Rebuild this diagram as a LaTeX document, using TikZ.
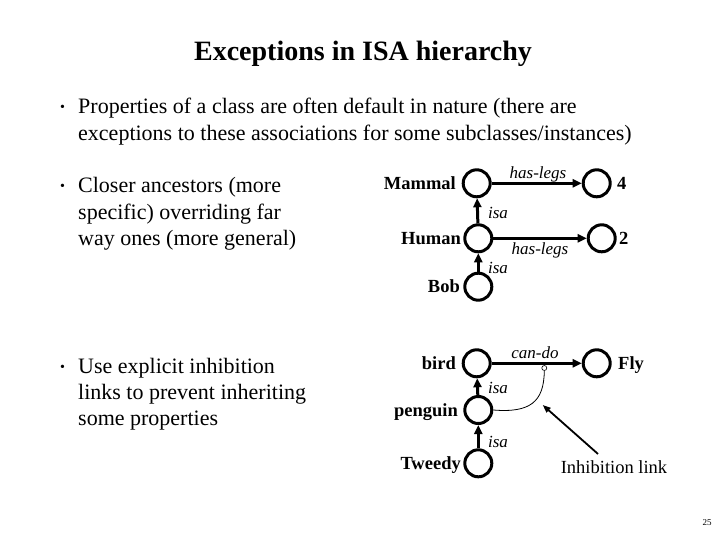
\documentclass[tikz,border=0pt]{standalone}
\usepackage{fontspec}
\setmainfont{Liberation Serif}
\usetikzlibrary{arrows.meta}
\begin{document}
\begin{tikzpicture}[x=1pt,y=-1pt,
 conc/.style={circle,draw,line width=3pt,minimum size=27pt,inner sep=0pt},
 lbl/.style={anchor=base east,inner sep=0pt,font=\fontsize{18.5}{18.5}\selectfont\bfseries},
 lblr/.style={anchor=base west,inner sep=0pt,font=\fontsize{18.5}{18.5}\selectfont\bfseries},
 rel/.style={inner sep=0pt,font=\fontsize{17}{17}\selectfont\itshape},
 link/.style={line width=3pt,-{Triangle[length=9pt,width=8pt]}},
 txt/.style={anchor=base west,inner sep=0pt,font=\fontsize{22}{22}\selectfont},
 bul/.style={anchor=base west,inner sep=0pt,font=\fontsize{14}{14}\selectfont},
]
\useasboundingbox (0,0) rectangle (720,540);
% title
\node[anchor=base,inner sep=0pt,font=\fontsize{28}{28}\selectfont\bfseries] (title) at (363,61) {Exceptions in ISA hierarchy};
% bullets
\node[bul] (b1) at (60,112) {•};
\node[txt] (t1a) at (78,114) {Properties of a class are often default in nature (there are};
\node[txt] (t1b) at (78,141) {exceptions to these associations for some subclasses/instances)};
\node[bul] (b2) at (60,191) {•};
\node[txt] (t2a) at (78,193) {Closer ancestors (more};
\node[txt] (t2b) at (78,219) {specific) overriding far};
\node[txt] (t2c) at (78,245) {way ones (more general)};
\node[bul] (b3) at (60,371) {•};
\node[txt] (t3a) at (78,373) {Use explicit inhibition};
\node[txt] (t3b) at (78,399) {links to prevent inheriting};
\node[txt] (t3c) at (78,425) {some properties};
% upper network
\node[conc] (mammal) at (476.7,183.3) {};
\node[conc] (four) at (596.7,183.3) {};
\node[conc] (human) at (478.3,238.3) {};
\node[conc] (two) at (601.7,238.3) {};
\node[conc] (bob) at (478.3,286.7) {};
\node[lbl] (lmammal) at (456,189.5) {Mammal};
\node[lbl] (lhuman) at (461,244.5) {Human};
\node[lbl] (lbob) at (460,292.5) {Bob};
\node[lblr] (lfour) at (617,189.5) {4};
\node[lblr] (ltwo) at (619,244.5) {2};
\draw[link] (mammal) -- (four);
\draw[link] (human) -- (two);
\draw[link] (human) -- (mammal);
\draw[link] (bob) -- (human);
\node[rel] (r1) at (538,174) {has-legs};
\node[rel] (r2) at (540,250) {has-legs};
\node[rel] (r3) at (498,213) {isa};
\node[rel] (r4) at (498,268) {isa};
% lower network
\node[conc] (bird) at (476.7,363.3) {};
\node[conc] (fly) at (596.7,363.3) {};
\node[conc] (penguin) at (478.3,410) {};
\node[conc] (tweedy) at (478.3,463.3) {};
\node[lbl] (lbird) at (456,369.5) {bird};
\node[lbl] (lpenguin) at (458,416.5) {penguin};
\node[lbl] (ltweedy) at (461,469.5) {Tweedy};
\node[lblr] (lfly) at (618,369.5) {Fly};
\draw[link] (bird) -- (fly);
\draw[link] (penguin) -- (bird);
\draw[link] (tweedy) -- (penguin);
\node[rel] (r5) at (535,353) {can-do};
\node[rel] (r6) at (498,388) {isa};
\node[rel] (r7) at (498,442) {isa};
\node[circle,draw,fill=white,line width=0.6pt,minimum size=5pt,inner sep=0pt] (inh) at (544.3,368) {};
\draw[line width=0.8pt] (penguin.east) .. controls (530,413) and (544,402) .. (inh.south);
\node[anchor=base,inner sep=0pt,font=\fontsize{18.5}{18.5}\selectfont] (linh) at (614,473) {Inhibition link};
\coordinate (tip) at (542.7,405);
\draw[line width=1.8pt,-{Triangle[length=8pt,width=6pt]}] ([xshift=-16pt,yshift=6pt]linh.north) -- (tip);
% page number
\node[inner sep=0pt,font=\fontsize{9}{9}\selectfont] (pg) at (707,523) {25};
\end{tikzpicture}
\end{document}
